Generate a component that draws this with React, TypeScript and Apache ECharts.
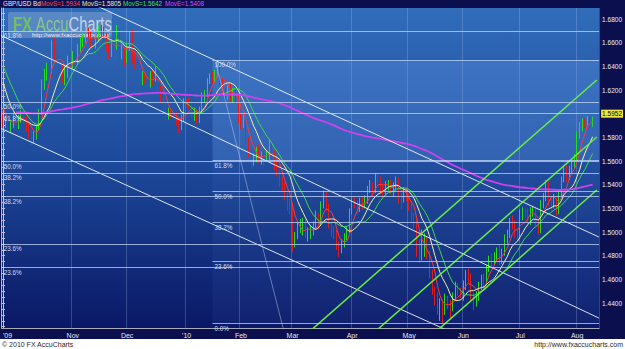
import React, { useEffect, useRef } from "react";
import * as echarts from "echarts";

const FONT = "Liberation Sans, Arial, sans-serif";
const firstDay = "2009-09-24";
const emptySlots = 2;

// [open, close, low, high]
const candles: number[][] = [
  [1.599, 1.5925, 1.589, 1.601], [1.5925, 1.595, 1.588, 1.5985], [1.595, 1.589, 1.586, 1.5975], [1.589, 1.5905, 1.584, 1.595],
  [1.5905, 1.5975, 1.588, 1.601], [1.5975, 1.593, 1.59, 1.601], [1.593, 1.5955, 1.587, 1.599], [1.5955, 1.599, 1.592, 1.603],
  [1.599, 1.595, 1.591, 1.6025], [1.595, 1.588, 1.585, 1.5985], [1.588, 1.584, 1.579, 1.592], [1.584, 1.579, 1.5735, 1.587],
  [1.579, 1.581, 1.575, 1.585], [1.581, 1.588, 1.578, 1.5905], [1.588, 1.601, 1.586, 1.604], [1.601, 1.626, 1.599, 1.629],
  [1.626, 1.633, 1.62, 1.638], [1.633, 1.64, 1.628, 1.643], [1.64, 1.636, 1.629, 1.645], [1.636, 1.66, 1.634, 1.662],
  [1.66, 1.65, 1.645, 1.664], [1.65, 1.644, 1.638, 1.654], [1.644, 1.639, 1.633, 1.649], [1.639, 1.632, 1.625, 1.642],
  [1.632, 1.635, 1.624, 1.64], [1.635, 1.646, 1.63, 1.649], [1.646, 1.645, 1.639, 1.653], [1.645, 1.649, 1.638, 1.653],
  [1.649, 1.644, 1.639, 1.652], [1.644, 1.656, 1.642, 1.659], [1.656, 1.66, 1.652, 1.664], [1.66, 1.664, 1.656, 1.668],
  [1.664, 1.67, 1.66, 1.673], [1.67, 1.666, 1.662, 1.673], [1.666, 1.661, 1.656, 1.67], [1.661, 1.658, 1.652, 1.665],
  [1.658, 1.664, 1.655, 1.668], [1.664, 1.672, 1.661, 1.675], [1.672, 1.669, 1.664, 1.675], [1.669, 1.665, 1.66, 1.673],
  [1.665, 1.656, 1.652, 1.668], [1.656, 1.65, 1.646, 1.66], [1.65, 1.66, 1.648, 1.663], [1.66, 1.656, 1.652, 1.665],
  [1.656, 1.669, 1.654, 1.675], [1.669, 1.652, 1.644, 1.672], [1.652, 1.653, 1.646, 1.659], [1.653, 1.645, 1.64, 1.656],
  [1.645, 1.656, 1.643, 1.66], [1.656, 1.665, 1.653, 1.669], [1.665, 1.647, 1.643, 1.671], [1.647, 1.644, 1.638, 1.652],
  [1.644, 1.638, 1.633, 1.648], [1.638, 1.629, 1.625, 1.642], [1.629, 1.63, 1.624, 1.636], [1.63, 1.627, 1.625, 1.634],
  [1.627, 1.625, 1.622, 1.633], [1.625, 1.633, 1.622, 1.636], [1.633, 1.629, 1.624, 1.637], [1.629, 1.636, 1.627, 1.64],
  [1.636, 1.62, 1.615, 1.639], [1.62, 1.614, 1.609, 1.624], [1.614, 1.605, 1.601, 1.617], [1.605, 1.598, 1.594, 1.608],
  [1.598, 1.601, 1.595, 1.605], [1.601, 1.599, 1.596, 1.604], [1.599, 1.5985, 1.596, 1.601], [1.5985, 1.595, 1.59, 1.601],
  [1.595, 1.588, 1.583, 1.597], [1.588, 1.596, 1.586, 1.599], [1.596, 1.61, 1.593, 1.613], [1.61, 1.6095, 1.607, 1.612],
  [1.6095, 1.608, 1.604, 1.614], [1.608, 1.599, 1.596, 1.611], [1.599, 1.601, 1.594, 1.605], [1.601, 1.595, 1.591, 1.604],
  [1.595, 1.602, 1.592, 1.606], [1.602, 1.615, 1.6, 1.618], [1.615, 1.616, 1.609, 1.62], [1.616, 1.628, 1.614, 1.63],
  [1.628, 1.631, 1.625, 1.634], [1.631, 1.629, 1.625, 1.636], [1.629, 1.633, 1.626, 1.637], [1.633, 1.642, 1.631, 1.6454],
  [1.642, 1.627, 1.623, 1.644], [1.627, 1.619, 1.615, 1.63], [1.619, 1.615, 1.608, 1.622], [1.615, 1.621, 1.612, 1.624],
  [1.621, 1.614, 1.61, 1.625], [1.614, 1.618, 1.609, 1.622], [1.618, 1.613, 1.608, 1.62], [1.613, 1.595, 1.592, 1.616],
  [1.595, 1.591, 1.587, 1.6], [1.591, 1.596, 1.588, 1.599], [1.596, 1.578, 1.575, 1.598], [1.578, 1.566, 1.563, 1.58],
  [1.566, 1.559, 1.553, 1.569], [1.559, 1.562, 1.556, 1.566], [1.562, 1.57, 1.559, 1.572], [1.57, 1.562, 1.558, 1.574],
  [1.562, 1.564, 1.557, 1.568], [1.564, 1.562, 1.556, 1.569], [1.562, 1.565, 1.56, 1.569], [1.565, 1.575, 1.561, 1.578],
  [1.575, 1.566, 1.562, 1.577], [1.566, 1.555, 1.552, 1.569], [1.555, 1.55, 1.547, 1.56], [1.55, 1.544, 1.538, 1.553],
  [1.544, 1.539, 1.535, 1.547], [1.539, 1.53, 1.527, 1.542], [1.53, 1.524, 1.518, 1.533], [1.524, 1.523, 1.515, 1.528],
  [1.523, 1.494, 1.483, 1.525], [1.494, 1.496, 1.487, 1.5], [1.496, 1.504, 1.494, 1.508], [1.504, 1.505, 1.499, 1.511],
  [1.505, 1.506, 1.497, 1.512], [1.506, 1.498, 1.495, 1.511], [1.498, 1.499, 1.492, 1.504], [1.499, 1.501, 1.494, 1.505],
  [1.501, 1.505, 1.497, 1.509], [1.505, 1.514, 1.502, 1.518], [1.514, 1.508, 1.502, 1.516], [1.508, 1.523, 1.506, 1.526],
  [1.523, 1.532, 1.52, 1.535], [1.532, 1.522, 1.518, 1.534], [1.522, 1.506, 1.503, 1.524], [1.506, 1.501, 1.496, 1.508],
  [1.501, 1.498, 1.494, 1.505], [1.498, 1.489, 1.485, 1.502], [1.489, 1.485, 1.479, 1.492], [1.485, 1.49, 1.482, 1.494],
  [1.49, 1.496, 1.487, 1.499], [1.496, 1.501, 1.493, 1.505], [1.501, 1.518, 1.499, 1.52], [1.518, 1.527, 1.515, 1.529],
  [1.527, 1.524, 1.52, 1.53], [1.524, 1.52, 1.515, 1.527], [1.52, 1.525, 1.517, 1.529], [1.525, 1.523, 1.519, 1.53],
  [1.523, 1.527, 1.52, 1.531], [1.527, 1.536, 1.524, 1.539], [1.536, 1.538, 1.533, 1.544], [1.538, 1.535, 1.53, 1.542],
  [1.535, 1.546, 1.533, 1.55], [1.546, 1.545, 1.541, 1.549], [1.545, 1.537, 1.532, 1.547], [1.537, 1.535, 1.529, 1.541],
  [1.535, 1.539, 1.531, 1.543], [1.539, 1.541, 1.535, 1.544], [1.541, 1.536, 1.532, 1.544], [1.536, 1.538, 1.53, 1.542],
  [1.538, 1.544, 1.535, 1.547], [1.544, 1.53, 1.524, 1.546], [1.53, 1.528, 1.519, 1.533], [1.528, 1.533, 1.525, 1.538],
  [1.533, 1.53, 1.526, 1.538], [1.53, 1.523, 1.518, 1.533], [1.523, 1.512, 1.508, 1.526], [1.512, 1.508, 1.503, 1.516],
  [1.508, 1.485, 1.479, 1.512], [1.485, 1.481, 1.474, 1.494], [1.481, 1.483, 1.476, 1.502], [1.483, 1.493, 1.479, 1.499],
  [1.493, 1.481, 1.477, 1.496], [1.481, 1.465, 1.461, 1.484], [1.465, 1.45, 1.447, 1.468], [1.45, 1.444, 1.438, 1.454],
  [1.444, 1.434, 1.43, 1.449], [1.434, 1.439, 1.425, 1.444], [1.439, 1.437, 1.4229, 1.443], [1.437, 1.442, 1.43, 1.448],
  [1.442, 1.44, 1.435, 1.446], [1.44, 1.437, 1.426, 1.443], [1.437, 1.445, 1.433, 1.449], [1.445, 1.454, 1.442, 1.458],
  [1.454, 1.45, 1.446, 1.457], [1.45, 1.449, 1.444, 1.453], [1.449, 1.456, 1.442, 1.459], [1.456, 1.465, 1.451, 1.468],
  [1.465, 1.462, 1.456, 1.469], [1.462, 1.446, 1.442, 1.465], [1.446, 1.441, 1.434, 1.449], [1.441, 1.446, 1.437, 1.45],
  [1.446, 1.455, 1.442, 1.458], [1.455, 1.46, 1.451, 1.464], [1.46, 1.457, 1.453, 1.465], [1.457, 1.469, 1.455, 1.472],
  [1.469, 1.478, 1.466, 1.48], [1.478, 1.476, 1.47, 1.482], [1.476, 1.48, 1.472, 1.483], [1.48, 1.481, 1.476, 1.487],
  [1.481, 1.476, 1.472, 1.49], [1.476, 1.483, 1.473, 1.486], [1.483, 1.495, 1.48, 1.498], [1.495, 1.498, 1.49, 1.502],
  [1.498, 1.51, 1.495, 1.512], [1.51, 1.507, 1.502, 1.514], [1.507, 1.499, 1.495, 1.51], [1.499, 1.495, 1.492, 1.503],
  [1.495, 1.516, 1.494, 1.519], [1.516, 1.518, 1.51, 1.521], [1.518, 1.515, 1.512, 1.52], [1.515, 1.512, 1.507, 1.52],
  [1.512, 1.518, 1.506, 1.521], [1.518, 1.519, 1.513, 1.522], [1.519, 1.508, 1.505, 1.521], [1.508, 1.501, 1.498, 1.511],
  [1.501, 1.525, 1.499, 1.527], [1.525, 1.53, 1.52, 1.533], [1.53, 1.541, 1.526, 1.544], [1.541, 1.527, 1.522, 1.543],
  [1.527, 1.525, 1.518, 1.53], [1.525, 1.527, 1.52, 1.532], [1.527, 1.517, 1.514, 1.53], [1.517, 1.532, 1.515, 1.534],
  [1.532, 1.544, 1.53, 1.547], [1.544, 1.552, 1.542, 1.555], [1.552, 1.546, 1.542, 1.556], [1.546, 1.552, 1.544, 1.556],
  [1.552, 1.556, 1.549, 1.56], [1.556, 1.562, 1.554, 1.566], [1.562, 1.582, 1.56, 1.585], [1.582, 1.5865, 1.579, 1.593],
  [1.5865, 1.593, 1.585, 1.596], [1.593, 1.592, 1.588, 1.596], [1.592, 1.596, 1.589, 1.598], [1.596, 1.5905, 1.588, 1.5975],
  [1.5905, 1.5952, 1.589, 1.5975],
];

// closes before the first visible candle, used to start the moving averages
const priorCloses = [1.664, 1.67, 1.669, 1.666, 1.668, 1.667, 1.656, 1.649, 1.638, 1.63, 1.62, 1.61, 1.604, 1.599];

const xTickIdx = [0, 27, 48, 71, 92, 112, 135, 157, 178, 200, 222];
const xTickLabels = ["'09", "Nov", "Dec", "'10", "Feb", "Mar", "Apr", "May", "Jun", "Jul", "Aug"];
const yTickValues = [1.44, 1.46, 1.48, 1.5, 1.52, 1.54, 1.56, 1.58, 1.62, 1.64, 1.66, 1.68];
const yMin = 1.4189;
const yMax = 1.6893;

const legendTexts = ["GBP/USD Bd", "MovS=1.5934", "MovS=1.5805", "MovS=1.5642", "MovE=1.5408"];
const legendColors = ["#eeeeee", "#ff4a4a", "#f3efa6", "#45e04e", "#d64ef5"];

const smaPeriods = [5, 10, 15];
const smaColors = ["#ff3838", "#f3efa6", "#3fd84a"];
const emaPeriod = 200;
const emaSeed = 1.6016;
const emaFirstShown = 5;

const fibStd = [0.236, 0.382, 0.5, 0.618];
const fibA = { low: 1.3503, high: 1.8628, levels: fibStd };
const fibB = { low: 1.4229, high: 1.7043, levels: fibStd };
const fibC = { low: 1.4229, high: 1.6454, from: 81, levels: [0, 0.236, 0.382, 0.5, 0.618, 1] };

// trend lines as [index, price] pairs
const whiteLines = [
  [[29.6, 1.6978], [230.4, 1.4958]],
  [[-1.15, 1.6665], [230.4, 1.4273]],
  [[-1.15, 1.5879], [171.9, 1.4168]],
];
const faintLine = [[82.3, 1.6429], [108.5, 1.4172]];
const greenLines = [
  [[119.2, 1.4172], [229.6, 1.6285]],
  [[144.6, 1.4172], [229.6, 1.5803]],
  [[168.1, 1.4172], [229.6, 1.5355]],
];

function tradingDays(start: string, n: number) {
  const out: string[] = [];
  const d = new Date(start + "T00:00:00Z");
  while (out.length < n) {
    const w = d.getUTCDay();
    if (w !== 0 && w !== 6) out.push(d.toISOString().slice(0, 10));
    d.setUTCDate(d.getUTCDate() + 1);
  }
  return out;
}

function buildOption() {
  const dates = tradingDays(firstDay, candles.length + emptySlots);
  const xMax = dates.length - 0.5;
  const closes = candles.map((c) => c[1]);
  const all = priorCloses.concat(closes);
  const sma = (n: number) =>
    closes.map((_, i) => {
      const end = i + priorCloses.length;
      if (end + 1 < n) return null;
      let s = 0;
      for (let k = end - n + 1; k <= end; k++) s += all[k];
      return +(s / n).toFixed(5);
    });
  const kk = 2 / (emaPeriod + 1);
  let e = emaSeed;
  const ema = closes.map((c, i) => {
    if (i > 0) e = e + kk * (c - e);
    return i >= emaFirstShown ? +e.toFixed(5) : null;
  });
  const pct = (r: number) => (r * 100).toFixed(1) + "%";
  const lvl = (f: { low: number; high: number }, r: number) => f.low + r * (f.high - f.low);
  const yMinor: number[] = [];
  for (let k = 0; k < 54; k++) yMinor.push(+(1.42 + k * 0.005).toFixed(3));
  const last = closes[closes.length - 1];

  const fibData: any[] = [];
  [fibA, fibB].forEach((f) => f.levels.forEach((r) => fibData.push({ yAxis: lvl(f, r), name: pct(r) })));
  fibC.levels.forEach((r) =>
    fibData.push([{ coord: [fibC.from, lvl(fibC, r)], name: pct(r) }, { coord: [xMax, lvl(fibC, r)] }])
  );

  const seg = (pts: number[][], color: string, width: number, z: number) => ({
    type: "line",
    xAxisIndex: 1,
    yAxisIndex: 0,
    data: pts,
    symbol: "none",
    silent: true,
    clip: true,
    z,
    lineStyle: { color, width },
  });

  return {
    animation: false,
    backgroundColor: "#0b0f4e",
    textStyle: { fontFamily: FONT },
    grid: {
      left: 1.7,
      top: 8,
      width: 600.6,
      height: 320,
      show: true,
      borderWidth: 0,
      backgroundColor: new echarts.graphic.LinearGradient(0, 0, 0, 1, [
        { offset: 0, color: "#316dbb" },
        { offset: 0.5, color: "#1d4899" },
        { offset: 1, color: "#0a1866" },
      ]),
    },
    xAxis: [
      {
        type: "category",
        data: dates,
        boundaryGap: true,
        axisLine: { lineStyle: { color: "#a9aabb", width: 1 } },
        axisTick: { show: false },
        axisLabel: {
          interval: (i: number) => xTickIdx.includes(i),
          formatter: (_v: string, i: number) => xTickLabels[xTickIdx.indexOf(i)] ?? "",
          color: "#e6e6ee",
          fontSize: 7,
          margin: 4,
          fontFamily: FONT,
          alignMinLabel: "left",
        },
        splitLine: {
          show: true,
          interval: (i: number) => i > 0 && xTickIdx.includes(i),
          lineStyle: { color: "rgba(160,190,240,0.28)", width: 1 },
        },
      },
      { type: "value", min: -0.5, max: xMax, show: false },
    ],
    yAxis: [
      {
        type: "value",
        position: "right",
        min: yMin,
        max: yMax,
        axisLine: { show: true, lineStyle: { color: "#c8c8d8" } },
        axisTick: { show: true, customValues: yMinor, length: 2, lineStyle: { color: "#c8c8d8" } },
        axisLabel: {
          customValues: yTickValues,
          formatter: (v: number) => v.toFixed(4),
          color: "#f0f0f0",
          fontSize: 6.5,
          margin: 3,
          fontFamily: FONT,
        },
        splitLine: { show: false },
      },
      {
        type: "value",
        position: "left",
        min: yMin,
        max: yMax,
        axisLine: { show: true, lineStyle: { color: "#b8b8c8" } },
        axisTick: { show: true, inside: true, customValues: yMinor, length: 2, lineStyle: { color: "#b8b8c8" } },
        axisLabel: { show: false },
        splitLine: { show: false },
      },
    ],
    series: [
      {
        type: "line",
        xAxisIndex: 1,
        yAxisIndex: 0,
        data: [],
        z: 1,
        silent: true,
        markArea: {
          silent: true,
          data: [
            [
              { coord: [fibC.from, lvl(fibC, 1)], itemStyle: { color: "rgba(120,175,255,0.24)" } },
              { coord: [xMax, lvl(fibC, 0.618)] },
            ],
            [
              { coord: [fibC.from, lvl(fibC, 0.618)], itemStyle: { color: "rgba(120,175,255,0.06)" } },
              { coord: [xMax, lvl(fibC, 0)] },
            ],
          ],
        },
        markLine: {
          silent: true,
          symbol: ["none", "none"],
          lineStyle: { color: "rgba(195,215,248,0.75)", width: 1, type: "solid" },
          label: {
            show: true,
            position: "insideStartBottom",
            formatter: "{b}",
            color: "#d2daf0",
            fontSize: 6.3,
            fontFamily: FONT,
            distance: 2,
          },
          data: fibData,
        },
      },
      {
        type: "candlestick",
        xAxisIndex: 0,
        yAxisIndex: 0,
        data: candles,
        barWidth: 1.3,
        z: 2,
        itemStyle: {
          color: "#22dd22",
          color0: "#e01c1c",
          borderColor: "#22dd22",
          borderColor0: "#e01c1c",
          borderWidth: 1,
        },
        markLine: {
          silent: true,
          symbol: ["none", "none"],
          lineStyle: { color: "rgba(0,0,0,0)", width: 0 },
          label: {
            show: true,
            position: "end",
            formatter: last.toFixed(4),
            backgroundColor: "#f2e640",
            color: "#000",
            fontSize: 6.5,
            fontFamily: FONT,
            padding: [1, 1, 0, 1],
            distance: 2,
          },
          data: [{ yAxis: last }],
        },
      },
      ...smaPeriods.map((p, k) => ({
        type: "line",
        xAxisIndex: 0,
        yAxisIndex: 0,
        data: sma(p),
        symbol: "none",
        silent: true,
        z: 3,
        lineStyle: { color: smaColors[k], width: 1 },
      })),
      {
        type: "line",
        xAxisIndex: 0,
        yAxisIndex: 0,
        data: ema,
        symbol: "none",
        silent: true,
        z: 3,
        lineStyle: { color: "#d040f0", width: 1.8 },
      },
      ...whiteLines.map((l) => seg(l, "rgba(255,255,255,0.85)", 1, 4)),
      seg(faintLine, "rgba(200,215,255,0.45)", 1, 4),
      ...greenLines.map((l) => seg(l, "#66ee44", 1.5, 4)),
    ],
    graphic: [
      { type: "rect", shape: { x: 0, y: 339, width: 625, height: 10 }, style: { fill: "#ffffff" }, z: 50 },
      {
        type: "text",
        x: 2,
        y: 340.5,
        z: 51,
        style: { text: "© 2010 FX AccuCharts", fill: "#2a2a2a", font: "7px " + FONT, verticalAlign: "top" },
      },
      {
        type: "text",
        x: 623,
        y: 340.5,
        z: 51,
        style: {
          text: "http://www.fxaccucharts.com",
          fill: "#2a2a2a",
          font: "7px " + FONT,
          align: "right",
          textAlign: "right",
          verticalAlign: "top",
        },
      },
      ...legendTexts.map((t, k) => ({
        type: "text",
        x: [3, 41, 82, 123, 165][k],
        y: 0.5,
        z: 60,
        style: { text: t, fill: legendColors[k], font: "6.3px " + FONT, verticalAlign: "top" },
      })),
      {
        type: "group",
        x: 8,
        y: 12,
        z: 60,
        children: [
          { type: "rect", shape: { x: 0, y: 0, width: 104, height: 26, r: 2 }, style: { fill: "rgba(215,222,235,0.25)" } },
          {
            type: "text",
            x: 5,
            y: 2,
            scaleX: 0.7,
            style: {
              text: "{a|FX }{b|Accu}{c|Charts}",
              verticalAlign: "top",
              rich: {
                a: { fill: "rgba(115,205,70,0.85)", font: "bold 21px " + FONT },
                b: { fill: "rgba(150,215,120,0.8)", font: "21px " + FONT },
                c: { fill: "rgba(228,232,238,0.8)", font: "21px " + FONT },
              },
            },
          },
          {
            type: "text",
            x: 24,
            y: 20,
            style: { text: "http://www.fxaccucharts.com/", fill: "rgba(255,255,255,0.9)", font: "6px " + FONT, verticalAlign: "top" },
          },
        ],
      },
    ],
  };
}

export default function App() {
  const ref = useRef<HTMLDivElement>(null);
  useEffect(() => {
    const chart = echarts.init(ref.current!, null, { renderer: "svg" });
    chart.setOption(buildOption() as any);
    return () => chart.dispose();
  }, []);
  return <div ref={ref} style={{ position: "absolute", left: 0, top: 0, width: 625, height: 349 }} />;
}
